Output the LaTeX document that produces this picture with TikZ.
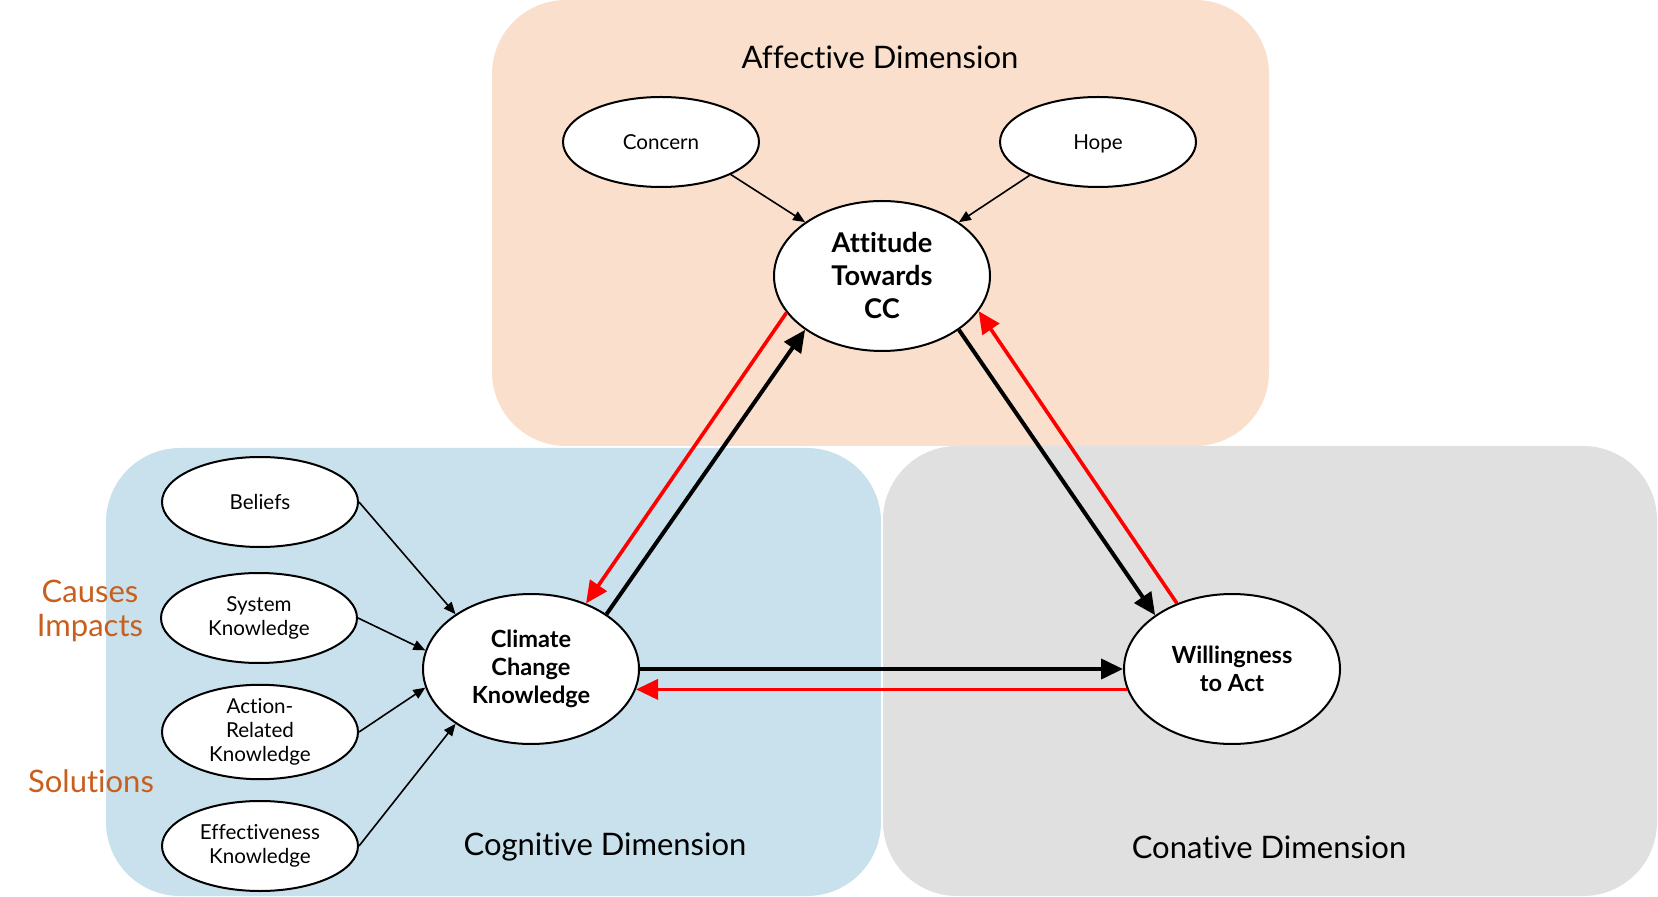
\documentclass[tikz,border=0pt]{standalone}
\usepackage{fontspec}
\setmainfont{Lato}[Ligatures=NoCommon]
\usepackage{tikz}
\usetikzlibrary{arrows.meta,positioning,shapes.geometric}
\definecolor{affectbg}{RGB}{250,223,205}
\definecolor{cognbg}{RGB}{201,225,236}
\definecolor{conatbg}{RGB}{224,224,224}
\definecolor{topicorange}{RGB}{200,95,30}

\begin{document}
\begin{tikzpicture}[x=0.5pt, y=-0.5pt,
    facet/.style={draw, ellipse, fill=white, line width=1pt, minimum width=98pt, minimum height=45pt, inner sep=0pt, align=center, font=\fontsize{10.3}{12}\selectfont},
    core/.style={draw, ellipse, fill=white, line width=1pt, minimum width=108pt, minimum height=75pt, inner sep=0pt, align=center, font=\bfseries\fontsize{11.8}{14}\selectfont},
    dimlabel/.style={font=\fontsize{15.5}{18}\selectfont},
    topic/.style={text=topicorange, align=center, font=\fontsize{15.5}{17}\selectfont},
    subarrow/.style={-{Triangle[length=6pt,width=5pt]}, line width=0.8pt},
    mainarrow/.style={-{Triangle[length=11pt,width=10pt]}, line width=2pt},
    redarrow/.style={-{Triangle[length=11pt,width=10pt]}, line width=1.8pt, red}]
    \useasboundingbox (0,0) rectangle (1658,897);
    % the three dimensions
    \fill[affectbg, rounded corners=37pt] (492,0) rectangle (1269,446);
    \fill[cognbg, rounded corners=37pt] (106,448) rectangle (881,896);
    \fill[conatbg, rounded corners=37pt] (883,446) rectangle (1657,896);
    \node[dimlabel] (afflabel) at (880,57) {Affective Dimension};
    \node[dimlabel] (coglabel) at (605,847) {Cognitive Dimension};
    \node[dimlabel] (conlabel) at (1269,847) {Conative Dimension};
    \node[topic] (causes) at (90,611) {Causes\\Impacts};
    \node[topic] (solutions) at (91,781) {Solutions};

    \node[core, font=\bfseries\fontsize{13.6}{16.5}\selectfont] (att) at (882,276) {Attitude\\Towards\\CC};
    \node[core] (cck) at (531,669) {Climate\\Change\\Knowledge};
    \node[core] (will) at (1232,669) {Willingness\\to Act};

    \node[facet] (concern) at (661,142) {Concern};
    \node[facet, text depth=0pt] (hope) at (1098,142) {Hope};
    \node[facet] (beliefs) at (260,502) {Beliefs};
    \node[facet] (system) at (259,618) {System\\Knowledge};
    \node[facet] (action) at (260,732) {Action-\\Related\\Knowledge};
    \node[facet] (effect) at (260,846) {Effectiveness\\Knowledge};

    \draw[subarrow] (concern.335) -- (att.145);
    \draw[subarrow] (hope.206) -- (att.35);
    \draw[subarrow] (beliefs.east) -- (cck.144);
    \draw[subarrow] (system.east) -- (cck.170);
    \draw[subarrow] (action.east) -- (cck.190);
    \draw[subarrow] (effect.east) -- (cck.216);

    \draw[mainarrow] (cck.36) -- (att.215);
    \draw[redarrow] (att.201) -- (cck.50);
    \draw[mainarrow] (att.325) -- (will.145);
    \draw[redarrow] (will.130) -- (att.340);
    \draw[mainarrow] (cck.east) -- (will.west);
    \draw[redarrow] (will.191) -- (cck.349);
\end{tikzpicture}
\end{document}
